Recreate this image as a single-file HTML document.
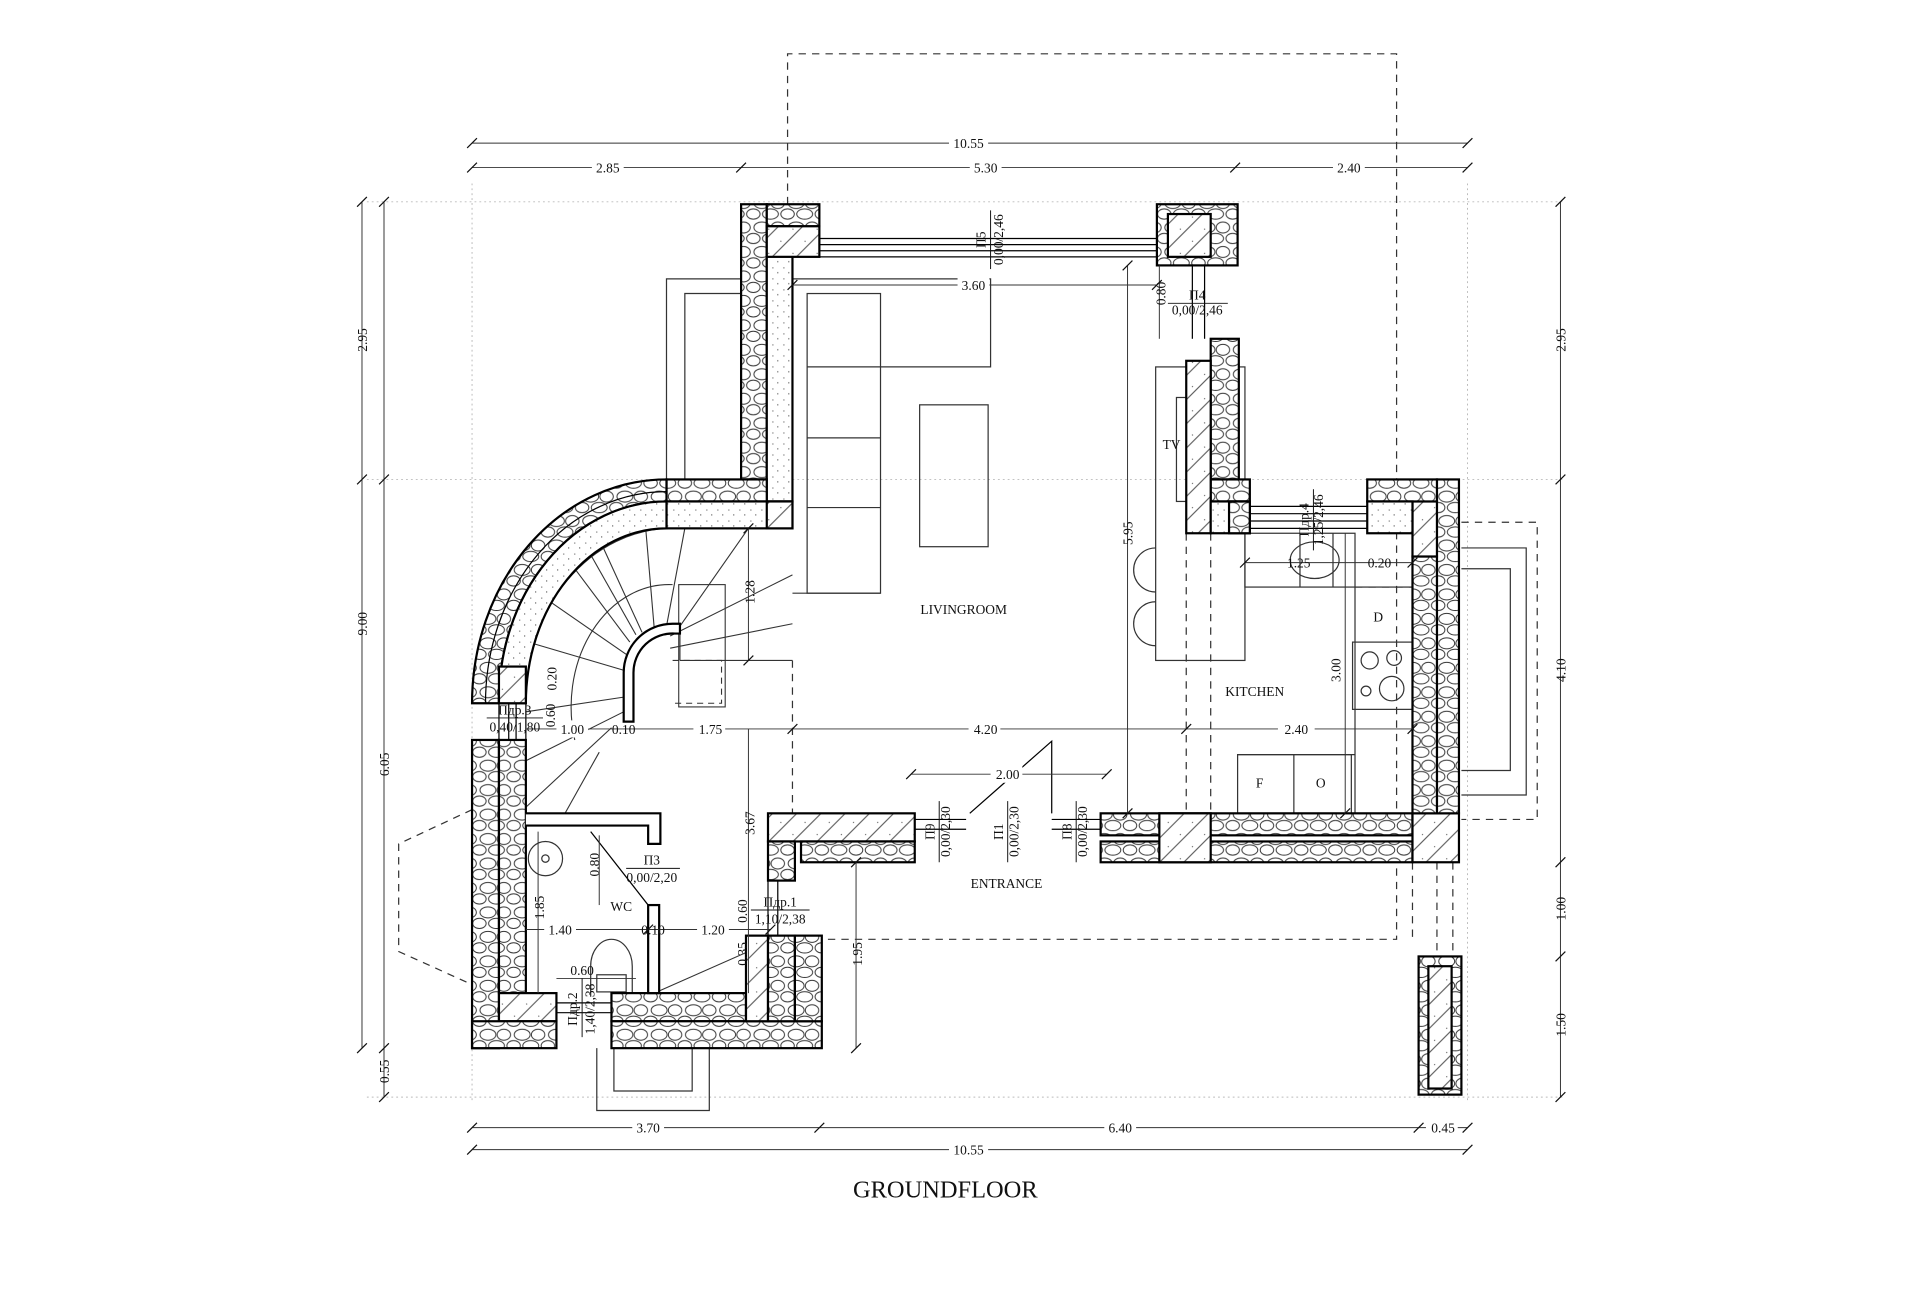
<!DOCTYPE html>
<html><head><meta charset="utf-8"><style>
html,body{margin:0;padding:0;background:#fff;}
svg{display:block;}
text{font-family:"Liberation Serif",serif;fill:#111;}
</style></head><body>
<svg width="1920" height="1305" viewBox="0 0 1570 1067" preserveAspectRatio="none" xmlns="http://www.w3.org/2000/svg">
<defs>
<pattern id="st" width="28" height="20" patternUnits="userSpaceOnUse">
<rect width="28" height="20" fill="#fff"/>
<ellipse cx="7" cy="6" rx="6.5" ry="4.5" fill="none" stroke="#333" stroke-width="0.8"/>
<ellipse cx="20" cy="6" rx="5.5" ry="4.5" fill="none" stroke="#333" stroke-width="0.8"/>
<ellipse cx="14" cy="15" rx="6.5" ry="4.2" fill="none" stroke="#333" stroke-width="0.8"/>
<ellipse cx="0" cy="15" rx="5.5" ry="4.2" fill="none" stroke="#333" stroke-width="0.8"/>
<ellipse cx="28" cy="15" rx="5.5" ry="4.2" fill="none" stroke="#333" stroke-width="0.8"/>
</pattern>
<pattern id="cc" width="9" height="9" patternUnits="userSpaceOnUse">
<rect width="9" height="9" fill="#fff"/>
<circle cx="2" cy="3" r="0.5" fill="#555"/><circle cx="6" cy="7" r="0.5" fill="#555"/>
</pattern>
<pattern id="hh" width="14" height="14" patternUnits="userSpaceOnUse" patternTransform="rotate(-45)">
<rect width="14" height="14" fill="#fff"/><line x1="0" y1="7" x2="14" y2="7" stroke="#444" stroke-width="0.8"/>
<circle cx="4" cy="3" r="0.5" fill="#555"/>
</pattern>
</defs>

<g stroke="#bbb" stroke-width="0.8" stroke-dasharray="1.5 2.5" fill="none">
<line x1="300" y1="165" x2="1280" y2="165"/>
<line x1="300" y1="392" x2="1280" y2="392"/>
<line x1="300" y1="897" x2="1280" y2="897"/>
<line x1="386" y1="150" x2="386" y2="900"/>
<line x1="1200" y1="150" x2="1200" y2="900"/>
</g>

<g stroke="#333" stroke-width="1" stroke-dasharray="6 5" fill="none">
<polyline points="644,200 644,44 1142,44 1142,768 670,768"/>
<polyline points="1195,427 1257,427 1257,670 1195,670"/>
<polyline points="386,662 326,690 326,778 386,805"/>
<line x1="970" y1="436" x2="970" y2="665"/>
<line x1="990" y1="436" x2="990" y2="665"/>
<line x1="648" y1="540" x2="648" y2="665"/>
<line x1="1155" y1="705" x2="1155" y2="768"/>
<line x1="1175" y1="705" x2="1175" y2="782"/>
<line x1="1188" y1="705" x2="1188" y2="782"/>
<line x1="1108" y1="480" x2="1155" y2="480"/>
</g>

<g stroke="#333" stroke-width="1" fill="none">
<polyline points="606,228 545,228 545,392"/>
<polyline points="606,240 560,240 560,392"/>
<polyline points="1195,448 1248,448 1248,650 1195,650"/>
<polyline points="1195,465 1235,465 1235,630 1195,630"/>
<polyline points="488,857 488,908 580,908 580,857"/>
<polyline points="502,857 502,892 566,892 566,857"/>
</g>

<g stroke="#333" stroke-width="1" fill="none">
<rect x="660" y="240" width="60" height="245"/>
<line x1="660" y1="300" x2="720" y2="300"/><line x1="660" y1="358" x2="720" y2="358"/><line x1="660" y1="415" x2="720" y2="415"/>
<polyline points="648,228 810,228 810,300 720,300"/>
<line x1="648" y1="485" x2="720" y2="485"/>
<rect x="752" y="331" width="56" height="116"/>
<rect x="945" y="300" width="73" height="240"/>
<rect x="962" y="325" width="13" height="85"/>
<path d="M945,448 A18,18 0 0 0 945,484"/>
<path d="M945,492 A18,18 0 0 0 945,528"/>
<rect x="1018" y="436" width="90" height="44"/>
<line x1="1063" y1="436" x2="1063" y2="480"/>
<line x1="1090" y1="436" x2="1090" y2="480"/>
<ellipse cx="1075" cy="458" rx="20" ry="15"/>
<rect x="1108" y="480" width="47" height="185"/>
<rect x="1106" y="525" width="49" height="55"/>
<circle cx="1120" cy="540" r="7"/><circle cx="1140" cy="538" r="6"/><circle cx="1117" cy="565" r="4"/><circle cx="1138" cy="563" r="10"/>
<rect x="1012" y="617" width="93" height="48"/>
<line x1="1058" y1="617" x2="1058" y2="665"/>
<line x1="1012" y1="617" x2="1108" y2="617"/>
<circle cx="446" cy="702" r="14"/><circle cx="446" cy="702" r="3"/>
<path d="M483,815 L483,790 A17,22 0 0 1 517,790 L517,815"/>
<rect x="488" y="797" width="24" height="14"/>
</g>

<g stroke="#333" stroke-width="0.9" fill="none">
<path d="M430,575 A120,140 0 0 1 548,432"/>
<path d="M470,605 A80,100 0 0 1 550,478"/>
<rect x="555" y="478" width="38" height="100"/>
<polyline points="550,540 590,540 590,575 550,575" stroke-dasharray="5 4"/>
<line x1="548" y1="520" x2="648" y2="470"/>
<line x1="548" y1="530" x2="648" y2="510"/>
<line x1="556" y1="512" x2="612" y2="432"/>
<line x1="545" y1="512" x2="560" y2="432"/>
<line x1="535" y1="514" x2="528" y2="432"/>
<line x1="525" y1="517" x2="492" y2="445"/>
<line x1="520" y1="519" x2="481" y2="450"/>
<line x1="515" y1="525" x2="470" y2="465"/>
<line x1="512" y1="535" x2="447" y2="490"/>
<line x1="510" y1="548" x2="432" y2="525"/>
<line x1="510" y1="570" x2="430" y2="582"/>
<line x1="510" y1="582" x2="430" y2="622"/>
<line x1="500" y1="595" x2="430" y2="660"/>
<line x1="490" y1="615" x2="462" y2="665"/>
<line x1="630" y1="770" x2="535" y2="812"/>
<line x1="556" y1="540" x2="648" y2="540"/>
<line x1="556" y1="512" x2="556" y2="540"/>
</g>
<path d="M510,590 L510,550 A40,40 0 0 1 550,510 L556,510 L556,518 L552,518 A32,32 0 0 0 518,550 L518,590 Z" fill="#fff" stroke="#000" stroke-width="1.8"/>

<g stroke="#000" stroke-width="1.8">
<rect x="606" y="167" width="21" height="225" fill="url(#st)"/>
<rect x="627" y="167" width="43" height="18" fill="url(#st)"/>
<rect x="627" y="185" width="21" height="225" fill="url(#cc)"/>
<rect x="627" y="185" width="43" height="25" fill="url(#hh)"/>
<rect x="545" y="392" width="82" height="18" fill="url(#st)"/>
<rect x="545" y="410" width="103" height="22" fill="url(#cc)"/>
<rect x="627" y="410" width="21" height="22" fill="url(#hh)"/>
<path d="M545,392 A159,183 0 0 0 386,575 L408,575 A137,163 0 0 1 545,410 Z" fill="url(#st)"/>
<path d="M545,410 A137,163 0 0 0 408,575 L430,575 A115,143 0 0 1 545,432 Z" fill="url(#cc)"/>
<path d="M545,402 A148,173 0 0 0 397,575" fill="none" stroke-width="1"/>
<rect x="408" y="545" width="22" height="30" fill="url(#hh)"/>
<rect x="386" y="605" width="22" height="252" fill="url(#st)"/>
<rect x="408" y="605" width="22" height="207" fill="url(#st)"/>
<rect x="408" y="812" width="47" height="23" fill="url(#hh)"/>
<rect x="386" y="835" width="69" height="22" fill="url(#st)"/>
<rect x="500" y="812" width="110" height="23" fill="url(#st)"/>
<rect x="500" y="835" width="172" height="22" fill="url(#st)"/>
<rect x="610" y="765" width="18" height="70" fill="url(#hh)"/>
<rect x="628" y="765" width="22" height="70" fill="url(#st)"/>
<rect x="650" y="765" width="22" height="70" fill="url(#st)"/>
<rect x="628" y="665" width="120" height="23" fill="url(#hh)"/>
<rect x="655" y="688" width="93" height="17" fill="url(#st)"/>
<rect x="628" y="688" width="22" height="32" fill="url(#st)"/>
<polyline points="430,665 540,665 540,690 530,690 530,675 430,675" fill="#fff"/>
<rect x="530" y="740" width="9" height="72" fill="#fff"/>
<rect x="900" y="665" width="255" height="18" fill="url(#st)"/>
<rect x="900" y="688" width="255" height="17" fill="url(#st)"/>
<rect x="948" y="665" width="42" height="40" fill="url(#hh)"/>
<rect x="1155" y="665" width="38" height="40" fill="url(#hh)"/>
<rect x="1175" y="392" width="18" height="273" fill="url(#st)"/>
<rect x="1155" y="455" width="20" height="210" fill="url(#st)"/>
<rect x="1155" y="410" width="20" height="45" fill="url(#hh)"/>
<rect x="1118" y="392" width="57" height="18" fill="url(#st)"/>
<rect x="1118" y="410" width="37" height="26" fill="url(#cc)"/>
<rect x="990" y="277" width="23" height="115" fill="url(#st)"/>
<rect x="990" y="392" width="32" height="18" fill="url(#st)"/>
<rect x="970" y="295" width="20" height="141" fill="url(#hh)"/>
<rect x="990" y="410" width="32" height="26" fill="url(#cc)"/>
<rect x="1005" y="410" width="17" height="26" fill="url(#st)"/>
<rect x="946" y="167" width="66" height="50" fill="url(#st)"/>
<rect x="955" y="175" width="35" height="35" fill="url(#hh)"/>
<rect x="1160" y="782" width="35" height="113" fill="url(#st)"/>
<rect x="1168" y="790" width="19" height="100" fill="url(#hh)"/>
</g>

<g stroke="#000" stroke-width="1" fill="none">
<line x1="670" y1="195" x2="946" y2="195"/><line x1="670" y1="200" x2="946" y2="200"/>
<line x1="670" y1="205" x2="946" y2="205"/><line x1="670" y1="210" x2="946" y2="210"/>
<line x1="1022" y1="414" x2="1118" y2="414"/><line x1="1022" y1="420" x2="1118" y2="420"/>
<line x1="1022" y1="426" x2="1118" y2="426"/><line x1="1022" y1="432" x2="1118" y2="432"/>
<line x1="408" y1="575" x2="408" y2="605"/><line x1="416" y1="575" x2="416" y2="605"/>
<line x1="422" y1="575" x2="422" y2="605"/><line x1="430" y1="575" x2="430" y2="605"/>
<line x1="455" y1="820" x2="500" y2="820"/><line x1="455" y1="828" x2="500" y2="828"/>
<line x1="628" y1="720" x2="628" y2="765"/><line x1="636" y1="720" x2="636" y2="765"/>
<line x1="975" y1="217" x2="975" y2="277"/><line x1="985" y1="217" x2="985" y2="277"/>
<line x1="748" y1="670" x2="790" y2="670"/><line x1="748" y1="678" x2="790" y2="678"/>
<line x1="860" y1="670" x2="900" y2="670"/><line x1="860" y1="678" x2="900" y2="678"/>
<polyline points="793,665 860,606 860,665"/>
<line x1="483" y1="680" x2="530" y2="740"/>
</g>

<g stroke="#333" stroke-width="0.8" fill="none">
<line x1="386" y1="117" x2="1200" y2="117"/>
<line x1="386" y1="137" x2="1200" y2="137"/>
<line x1="386" y1="922" x2="1200" y2="922"/>
<line x1="386" y1="940" x2="1200" y2="940"/>
<line x1="296" y1="165" x2="296" y2="857"/>
<line x1="314" y1="165" x2="314" y2="897"/>
<line x1="1276" y1="165" x2="1276" y2="897"/>
<line x1="648" y1="233" x2="946" y2="233"/>
<line x1="430" y1="596" x2="1155" y2="596"/>
<line x1="745" y1="633" x2="905" y2="633"/>
<line x1="922" y1="217" x2="922" y2="665"/>
<line x1="1100" y1="436" x2="1100" y2="665"/>
<line x1="612" y1="432" x2="612" y2="540"/>
<line x1="612" y1="596" x2="612" y2="812"/>
<line x1="700" y1="705" x2="700" y2="857"/>
<line x1="440" y1="680" x2="440" y2="812"/>
<line x1="430" y1="760" x2="630" y2="760"/>
<line x1="1018" y1="460" x2="1155" y2="460"/>
<line x1="948" y1="217" x2="948" y2="277"/>
<line x1="490" y1="683" x2="490" y2="740"/>
<line x1="455" y1="800" x2="520" y2="800"/>
</g>
<g stroke="#111" stroke-width="1">
<path d="M382,121l8,-8M602,141l8,-8M1006,141l8,-8M1196,121l8,-8M1196,141l8,-8M382,141l8,-8M382,926l8,-8M666,926l8,-8M1156,926l8,-8M1196,926l8,-8M382,944l8,-8M1196,944l8,-8M292,169l8,-8M292,396l8,-8M292,861l8,-8M310,169l8,-8M310,396l8,-8M310,861l8,-8M310,901l8,-8M1272,169l8,-8M1272,396l8,-8M1272,709l8,-8M1272,786l8,-8M1272,901l8,-8M644,237l8,-8M942,237l8,-8M966,600l8,-8M644,600l8,-8M1151,600l8,-8M741,637l8,-8M901,637l8,-8M918,221l8,-8M918,669l8,-8M1096,669l8,-8M696,709l8,-8M696,861l8,-8M608,436l8,-8M608,544l8,-8M526,764l8,-8M626,764l8,-8M1014,464l8,-8M1151,464l8,-8"/>
</g>

<g font-size="11" text-anchor="middle">
<rect x="776" y="110" width="32" height="14" fill="#fff"/><text x="792" y="121">10.55</text>
<rect x="484" y="130" width="26" height="14" fill="#fff"/><text x="497" y="141">2.85</text>
<rect x="793" y="130" width="26" height="14" fill="#fff"/><text x="806" y="141">5.30</text>
<rect x="1090" y="130" width="26" height="14" fill="#fff"/><text x="1103" y="141">2.40</text>
<rect x="517" y="915" width="26" height="14" fill="#fff"/><text x="530" y="926">3.70</text>
<rect x="903" y="915" width="26" height="14" fill="#fff"/><text x="916" y="926">6.40</text>
<rect x="1166" y="915" width="26" height="14" fill="#fff"/><text x="1180" y="926">0.45</text>
<rect x="776" y="933" width="32" height="14" fill="#fff"/><text x="792" y="944">10.55</text>
<rect x="783" y="226" width="26" height="14" fill="#fff"/><text x="796" y="237">3.60</text>
<rect x="792" y="589" width="26" height="14" fill="#fff"/><text x="806" y="600">4.20</text>
<rect x="1045" y="589" width="30" height="14" fill="#fff"/><text x="1060" y="600">2.40</text>
<rect x="567" y="589" width="26" height="14" fill="#fff"/><text x="581" y="600">1.75</text>
<rect x="455" y="589" width="26" height="14" fill="#fff"/><text x="468" y="600">1.00</text>
<text x="510" y="600">0.10</text>
<rect x="810" y="626" width="26" height="14" fill="#fff"/><text x="824" y="637">2.00</text>
<text x="1062" y="464">1.25</text><text x="1128" y="464">0.20</text>
<rect x="445" y="753" width="26" height="14" fill="#fff"/><text x="458" y="764">1.40</text>
<rect x="570" y="753" width="26" height="14" fill="#fff"/><text x="583" y="764">1.20</text>
<text x="534" y="764">0.10</text>
<text x="476" y="797">0.60</text>
<text x="788" y="502">LIVINGROOM</text>
<text x="1026" y="569">KITCHEN</text>
<text x="823" y="726">ENTRANCE</text>
<text x="508" y="745">WC</text>
<text x="958" y="367">TV</text>
<text x="1127" y="508">D</text>
<text x="1030" y="644">F</text>
<text x="1080" y="644">O</text>
<text x="533" y="707">П3</text><line x1="512" y1="710" x2="556" y2="710" stroke="#111" stroke-width="0.8"/>
<text x="533" y="721">0,00/2,20</text>
<text x="979" y="245">П4</text><line x1="955" y1="248" x2="1004" y2="248" stroke="#111" stroke-width="0.8"/>
<text x="979" y="257">0,00/2,46</text>
<text x="421" y="584">Пдр.3</text><line x1="398" y1="587" x2="444" y2="587" stroke="#111" stroke-width="0.8"/>
<text x="421" y="598">0,40/1,80</text>
<text x="638" y="741">Пдр.1</text><line x1="614" y1="744" x2="662" y2="744" stroke="#111" stroke-width="0.8"/>
<text x="638" y="755">1,10/2,38</text>
</g>
<g font-size="11" text-anchor="middle">
<text transform="translate(300,278) rotate(-90)">2.95</text>
<text transform="translate(300,510) rotate(-90)">9.00</text>
<text transform="translate(318,625) rotate(-90)">6.05</text>
<text transform="translate(318,876) rotate(-90)">0.55</text>
<text transform="translate(1280,278) rotate(-90)">2.95</text>
<text transform="translate(1280,548) rotate(-90)">4.10</text>
<text transform="translate(1280,743) rotate(-90)">1.00</text>
<text transform="translate(1280,838) rotate(-90)">1.50</text>
<text transform="translate(926,436) rotate(-90)">5.95</text>
<text transform="translate(1096,548) rotate(-90)">3.00</text>
<text transform="translate(617,484) rotate(-90)">1.28</text>
<text transform="translate(617,673) rotate(-90)">3.67</text>
<text transform="translate(705,780) rotate(-90)">1.95</text>
<text transform="translate(445,742) rotate(-90)">1.85</text>
<text transform="translate(490,707) rotate(-90)">0.80</text>
<text transform="translate(953,240) rotate(-90)">0.80</text>
<text transform="translate(454,585) rotate(-90)">0.60</text>
<text transform="translate(611,745) rotate(-90)">0.60</text>
<text transform="translate(611,780) rotate(-90)">0.35</text>
<text transform="translate(455,555) rotate(-90)">0.20</text>
<text transform="translate(806,196) rotate(-90)">П5</text>
<text transform="translate(820,196) rotate(-90)">0,00/2,46</text>
<text transform="translate(764,680) rotate(-90)">П9</text>
<text transform="translate(777,680) rotate(-90)">0,00/2,30</text>
<text transform="translate(820,680) rotate(-90)">П1</text>
<text transform="translate(833,680) rotate(-90)">0,00/2,30</text>
<text transform="translate(876,680) rotate(-90)">П8</text>
<text transform="translate(889,680) rotate(-90)">0,00/2,30</text>
<text transform="translate(472,825) rotate(-90)">Пдр.2</text>
<text transform="translate(486,825) rotate(-90)">1,40/2,38</text>
<text transform="translate(1070,425) rotate(-90)">Пдр.4</text>
<text transform="translate(1082,425) rotate(-90)">1,25/2,46</text>
</g>
<g stroke="#111" stroke-width="0.8">
<line x1="810" y1="172" x2="810" y2="220"/>
<line x1="768" y1="655" x2="768" y2="705"/>
<line x1="824" y1="655" x2="824" y2="705"/>
<line x1="880" y1="655" x2="880" y2="705"/>
<line x1="476" y1="800" x2="476" y2="848"/>
<line x1="1074" y1="400" x2="1074" y2="450"/>
</g>
<text x="773" y="979" font-size="20" text-anchor="middle">GROUNDFLOOR</text>
</svg>
</body></html>
